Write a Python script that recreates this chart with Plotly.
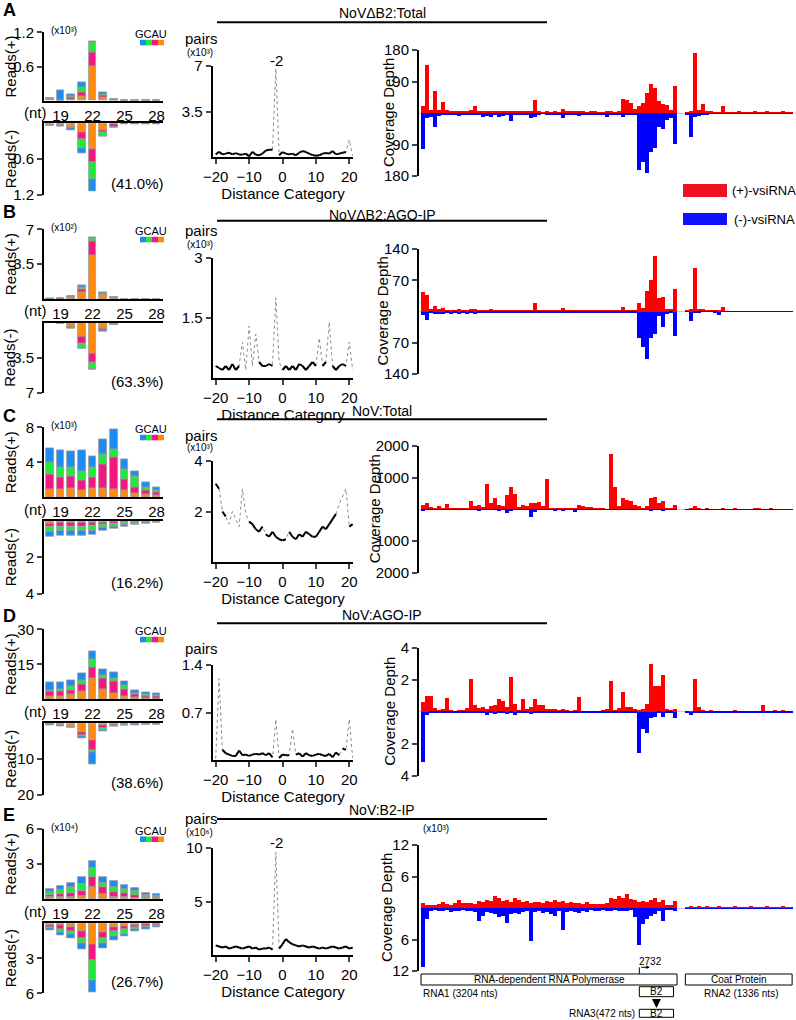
import plotly.graph_objects as go

W, H = 796, 1020
FONT = "Arial, Liberation Sans, Helvetica, sans-serif"

# ---------------- size-distribution histograms (lengths 18..28) ----------------
LENGTHS = [18, 19, 20, 21, 22, 23, 24, 25, 26, 27, 28]
NT_TICKS = [19, 22, 25, 28]
NUCS = ["U", "A", "C", "G"]          # stacking order, bottom -> top
NUC_COLORS = {"G": "#1c8cf2", "C": "#22e83c", "A": "#f5177f", "U": "#ff8a0d"}

A_PLUS_U = [0.03, 0.0, 0.03, 0.07, 0.60, 0.06, 0.01, 0, 0, 0, 0]
A_PLUS_A = [0.005, 0.0, 0.03, 0.08, 0.25, 0.04, 0.02, 0, 0, 0, 0]
A_PLUS_C = [0.0, 0.0, 0.02, 0.08, 0.17, 0.02, 0.0, 0, 0, 0, 0]
A_PLUS_G = [0.005, 0.19, 0.03, 0.10, 0.03, 0.02, 0.0, 0.01, 0.01, 0.01, 0.01]
A_MINUS_U = [0.03, 0.02, 0.07, 0.15, 0.43, 0.12, 0.01, 0, 0, 0, 0]
A_MINUS_A = [0.005, 0.02, 0.01, 0.12, 0.23, 0.03, 0.05, 0, 0, 0, 0]
A_MINUS_C = [0.0, 0.005, 0.01, 0.14, 0.27, 0.07, 0.005, 0, 0, 0, 0]
A_MINUS_G = [0.005, 0.005, 0.02, 0.09, 0.21, 0.0, 0.0, 0.01, 0.01, 0.01, 0.01]

B_PLUS_U = [0.02, 0.02, 0.22, 0.63, 4.4, 0.45, 0.05, 0, 0, 0, 0]
B_PLUS_A = [0.0, 0.01, 0.06, 0.34, 1.43, 0.1, 0.1, 0, 0, 0, 0]
B_PLUS_C = [0.0, 0.01, 0.01, 0.20, 0.27, 0.03, 0.01, 0, 0, 0, 0]
B_PLUS_G = [0.01, 0.02, 0.01, 0.23, 0.10, 0.05, 0.01, 0.02, 0.02, 0.02, 0.02]
B_MINUS_U = [0.02, 0.05, 0.45, 1.44, 3.07, 0.6, 0.05, 0, 0, 0, 0]
B_MINUS_A = [0.0, 0.02, 0.05, 0.66, 0.93, 0.15, 0.15, 0, 0, 0, 0]
B_MINUS_C = [0.0, 0.01, 0.03, 0.35, 0.58, 0.08, 0.02, 0, 0, 0, 0]
B_MINUS_G = [0.01, 0.02, 0.02, 0.15, 0.07, 0.05, 0.01, 0.02, 0.02, 0.02, 0.02]

C_PLUS_U = [0.91, 0.91, 0.99, 0.84, 1.03, 0.99, 0.95, 0.84, 0.46, 0.30, 0.25]
C_PLUS_A = [1.76, 1.38, 1.37, 1.14, 1.26, 2.82, 3.62, 1.22, 0.68, 0.50, 0.30]
C_PLUS_C = [1.29, 1.14, 1.07, 1.02, 1.14, 1.14, 0.95, 1.14, 1.22, 0.40, 0.25]
C_PLUS_G = [1.64, 1.98, 1.87, 2.37, 1.29, 1.68, 2.29, 1.14, 0.64, 0.48, 0.34]
C_MINUS_U = [0.15, 0.13, 0.13, 0.13, 0.12, 0.09, 0.07, 0.05, 0.04, 0.03, 0.02]
C_MINUS_A = [0.18, 0.17, 0.17, 0.17, 0.16, 0.12, 0.10, 0.07, 0.05, 0.03, 0.02]
C_MINUS_C = [0.27, 0.25, 0.25, 0.25, 0.24, 0.16, 0.13, 0.10, 0.07, 0.04, 0.03]
C_MINUS_G = [0.27, 0.27, 0.27, 0.27, 0.26, 0.18, 0.15, 0.11, 0.08, 0.05, 0.03]

D_PLUS_U = [1.1, 1.3, 2.0, 3.3, 8.9, 4.3, 2.6, 1.4, 0.8, 0.6, 0.5]
D_PLUS_A = [2.2, 2.3, 2.0, 3.3, 4.8, 4.6, 5.3, 3.0, 1.2, 0.9, 0.7]
D_PLUS_C = [0.7, 0.8, 1.4, 1.7, 3.6, 1.2, 1.1, 1.5, 0.6, 0.5, 0.4]
D_PLUS_G = [3.3, 2.7, 2.6, 2.8, 3.3, 2.8, 2.6, 1.7, 1.4, 1.0, 0.9]
D_MINUS_U = [0.2, 0.3, 0.8, 2.6, 4.7, 0.6, 0.2, 0.15, 0.1, 0.1, 0.1]
D_MINUS_A = [0.15, 0.2, 0.2, 0.7, 2.8, 0.8, 0.35, 0.25, 0.2, 0.15, 0.15]
D_MINUS_C = [0.06, 0.1, 0.05, 0.4, 0.7, 0.5, 0.15, 0.1, 0.1, 0.05, 0.05]
D_MINUS_G = [0.15, 0.15, 0.15, 0.5, 3.2, 0.4, 0.2, 0.15, 0.1, 0.1, 0.1]

E_PLUS_U = [0.15, 0.14, 0.2, 0.3, 1.0, 0.4, 0.2, 0.15, 0.1, 0.05, 0.05]
E_PLUS_A = [0.19, 0.29, 0.3, 0.4, 0.86, 0.6, 0.4, 0.35, 0.25, 0.15, 0.1]
E_PLUS_C = [0.23, 0.37, 0.5, 0.6, 0.77, 0.4, 0.4, 0.35, 0.3, 0.15, 0.1]
E_PLUS_G = [0.29, 0.31, 0.34, 0.61, 0.66, 0.51, 0.51, 0.38, 0.32, 0.19, 0.15]
E_MINUS_U = [0.15, 0.2, 0.3, 0.7, 1.77, 0.8, 0.3, 0.25, 0.15, 0.1, 0.08]
E_MINUS_A = [0.15, 0.3, 0.35, 0.59, 1.37, 0.5, 0.4, 0.3, 0.2, 0.12, 0.1]
E_MINUS_C = [0.15, 0.25, 0.3, 0.42, 1.72, 0.4, 0.4, 0.35, 0.2, 0.15, 0.1]
E_MINUS_G = [0.18, 0.25, 0.34, 0.52, 1.04, 0.44, 0.33, 0.24, 0.16, 0.12, 0.09]

# ---------------- overlapping-pair distance profiles (-20..21) ----------------
DIST = list(range(-20, 22))
DIST_TICKS = [-20, -10, 0, 10, 20]
A_PAIRS = [0.2, 0.4, 0.2, 0.26, 0.33, 0.2, 0.3, 0.2, 0.18, 0.26, 0.05, 0.4, 0.18, 0.13,
           0.26, 0.5, 0.55, 0.55, 6.8, 0.13, 0.38, 0.26, 0.2, 0.26, 0.13, 0.33, 0.46,
           0.38, 0.26, 0.15, 0.1, 0.13, 0.26, 0.3, 0.26, 0.46, 0.2, 0.26, 0.33, 0.38, 1.34, 0.1]
B_PAIRS = [0.3, 0.25, 0.2, 0.3, 0.2, 0.35, 0.2, 0.3, 0.9, 0.2, 1.3, 0.3, 1.1, 0.4,
           0.3, 0.3, 0.35, 0.3, 2.0, 0.4, 0.2, 0.3, 0.2, 0.3, 0.2, 0.35, 0.3, 0.2,
           0.3, 0.4, 0.3, 1.0, 0.3, 0.4, 1.4, 0.3, 0.2, 0.3, 0.35, 0.3, 0.9, 0.2]
C_PAIRS = [3.1, 2.9, 2.0, 1.8, 1.5, 2.0, 1.7, 1.4, 2.9, 1.9, 1.6, 1.5, 1.3, 1.2,
           1.4, 1.1, 1.0, 1.2, 1.0, 0.9, 0.85, 0.9, 1.2, 1.0, 0.9, 1.1, 1.0, 1.2,
           1.1, 1.0, 1.0, 1.2, 1.4, 1.3, 1.5, 1.7, 1.9, 2.3, 2.6, 2.9, 1.4, 1.5]
D_PAIRS = [0.02, 1.2, 0.15, 0.1, 0.08, 0.06, 0.06, 0.14, 0.07, 0.08, 0.06, 0.08, 0.09, 0.08,
           0.1, 0.07, 0.1, 0.04, 0.6, 0.03, 0.08, 0.07, 0.07, 0.46, 0.08, 0.1, 0.05, 0.1,
           0.07, 0.06, 0.08, 0.09, 0.07, 0.06, 0.09, 0.04, 0.11, 0.07, 0.17, 0.15, 0.6, 0.03]
E_PAIRS = [0.9, 0.8, 0.7, 0.8, 0.6, 0.7, 0.8, 0.7, 0.6, 0.7, 0.8, 0.6, 0.7, 0.5,
           0.6, 0.6, 0.7, 0.5, 9.6, 0.6, 1.0, 1.5, 1.2, 1.0, 0.9, 0.8, 0.9, 0.8,
           0.7, 0.8, 0.7, 0.6, 0.7, 0.6, 0.7, 0.8, 0.7, 0.6, 0.7, 0.8, 0.6, 0.7]

# ---------------- coverage along the genome (50-nt bins) ----------------
BIN_NT = 50
BIN_START = [i * BIN_NT for i in range(93)]
RNA1_LEN, RNA2_START, RNA2_END = 3204, 3308, 4644

A_COV_PLUS = [20, 136, 8, 64, 10, 31, 8, 3, 4, 6,
              5, 4, 10, 21, 6, 4, 5, 7, 6, 7,
              5, 6, 6, 3, 3, 3, 4, 5, 37, 3,
              2, 3, 2, 3, 2, 12, 3, 3, 3, 3,
              3, 2, 3, 3, 2, 2, 3, 7, 2, 3,
              40, 37, 30, 12, 20, 28, 58, 84, 72, 35,
              25, 22, 10, 76, 0, 0, 2, 5, 172, 8,
              25, 4, 6, 2, 2, 20, 2, 2, 2, 3,
              2, 2, 2, 3, 2, 2, 3, 2, 2, 2,
              3, 2, 2]
A_COV_MINUS = [104, 15, 12, 40, 8, 6, 5, 4, 5, 8,
               6, 5, 7, 6, 5, 10, 8, 12, 6, 10,
               8, 7, 22, 4, 3, 3, 5, 15, 10, 3,
               2, 3, 3, 4, 3, 15, 3, 4, 3, 8,
               3, 3, 4, 3, 5, 4, 10, 4, 3, 4,
               10, 5, 4, 6, 164, 140, 170, 110, 100, 40,
               45, 20, 15, 88, 0, 0, 3, 69, 10, 8,
               3, 3, 2, 2, 2, 2, 2, 2, 2, 2,
               2, 2, 2, 2, 2, 2, 2, 2, 2, 2,
               2, 2, 2]
B_COV_PLUS = [44, 36, 5, 13, 5, 8, 4, 3, 4, 5,
              4, 3, 5, 5, 4, 3, 3, 5, 3, 3,
              3, 3, 3, 2, 2, 2, 2, 3, 20, 2,
              2, 2, 2, 2, 2, 8, 2, 2, 2, 2,
              2, 2, 2, 2, 2, 2, 2, 2, 2, 2,
              9, 4, 3, 3, 19, 8, 46, 70, 124, 30,
              32, 5, 5, 51, 0, 0, 2, 5, 98, 5,
              5, 2, 2, 2, 3, 10, 1, 1, 1, 1,
              1, 1, 1, 1, 1, 1, 1, 1, 1, 1,
              1, 1, 1]
B_COV_MINUS = [8, 18, 4, 5, 5, 6, 4, 5, 4, 5,
               4, 5, 4, 5, 4, 3, 3, 3, 3, 3,
               3, 3, 3, 2, 2, 2, 2, 3, 3, 2,
               2, 2, 2, 2, 2, 2, 2, 2, 2, 2,
               2, 2, 2, 2, 2, 2, 2, 2, 2, 2,
               3, 2, 2, 2, 60, 80, 107, 60, 50, 10,
               34, 5, 3, 55, 0, 0, 1, 21, 3, 2,
               1, 1, 1, 3, 8, 1, 1, 1, 1, 1,
               1, 1, 1, 1, 1, 1, 1, 1, 1, 1,
               1, 1, 1]
C_COV_PLUS = [150, 200, 60, 40, 100, 50, 170, 40, 20, 30,
              50, 30, 250, 120, 150, 60, 800, 200, 350, 150,
              100, 450, 700, 470, 60, 150, 100, 200, 200, 220,
              120, 960, 30, 30, 20, 30, 20, 40, 30, 150,
              100, 80, 80, 40, 20, 50, 10, 1760, 700, 100,
              350, 300, 250, 150, 120, 30, 100, 370, 400, 200,
              250, 20, 30, 150, 0, 0, 10, 20, 100, 20,
              10, 20, 10, 10, 10, 20, 10, 10, 20, 10,
              10, 10, 10, 40, 40, 10, 10, 20, 10, 10,
              10, 10, 10]
C_COV_MINUS = [30, 10, 5, 5, 5, 5, 5, 5, 5, 5,
               5, 5, 5, 5, 30, 5, 20, 5, 5, 30,
               5, 110, 40, 5, 5, 5, 5, 250, 80, 5,
               5, 5, 5, 40, 5, 40, 5, 5, 80, 5,
               5, 5, 5, 20, 5, 5, 5, 5, 5, 5,
               5, 5, 5, 5, 5, 5, 5, 40, 5, 5,
               30, 5, 5, 5, 0, 0, 3, 3, 3, 3,
               3, 3, 3, 3, 3, 3, 3, 3, 3, 3,
               3, 3, 3, 3, 3, 3, 3, 3, 3, 3,
               3, 3, 3]
D_COV_PLUS = [0.6, 0.97, 1.0, 0.25, 0.1, 0.15, 0.87, 0.1, 0.05, 0.1,
              0.1, 0.25, 2.04, 0.4, 0.25, 0.3, 0.2, 0.35, 0.4, 0.8,
              0.7, 0.3, 2.2, 0.5, 0.1, 0.8, 0.2, 0.3, 0.8, 0.45,
              0.45, 0.15, 0.15, 0.2, 0.1, 0.2, 0.1, 0.05, 0.1, 0.9,
              0.05, 0.05, 0.05, 0.05, 0.05, 0.1, 0.2, 1.95, 0.1, 0.25,
              1.27, 0.3, 0.3, 0.2, 0.1, 0.15, 0.5, 3.0, 1.65, 1.6,
              2.3, 0.2, 0.1, 0.2, 0, 0, 0.02, 0.05, 2.08, 0.3,
              0.1, 0.05, 0.1, 0.03, 0.03, 0.03, 0.03, 0.03, 0.1, 0.03,
              0.03, 0.03, 0.03, 0.03, 0.03, 0.4, 0.03, 0.03, 0.1, 0.03,
              0.1, 0.03, 0.03]
D_COV_MINUS = [3.15, 0.2, 0.05, 0.05, 0.1, 0.05, 0.1, 0.05, 0.05, 0.1,
               0.05, 0.05, 0.05, 0.05, 0.1, 0.05, 0.2, 0.05, 0.15, 0.05,
               0.05, 0.15, 0.05, 0.2, 0.05, 0.05, 0.05, 0.15, 0.05, 0.05,
               0.05, 0.05, 0.05, 0.05, 0.05, 0.05, 0.05, 0.05, 0.05, 0.05,
               0.05, 0.05, 0.05, 0.05, 0.05, 0.05, 0.05, 0.05, 0.05, 0.05,
               0.05, 0.05, 0.05, 0.1, 2.6, 1.1, 1.3, 0.4, 0.3, 0.1,
               0.3, 0.05, 0.05, 0.4, 0, 0, 0.02, 0.2, 0.02, 0.02,
               0.02, 0.02, 0.02, 0.02, 0.02, 0.02, 0.02, 0.02, 0.02, 0.02,
               0.02, 0.02, 0.02, 0.02, 0.02, 0.02, 0.02, 0.02, 0.02, 0.02,
               0.02, 0.02, 0.02]
E_COV_PLUS = [0.95, 0.6, 0.65, 0.6, 0.7, 1.1, 0.8, 0.6, 0.9, 1.6,
              1.0, 0.9, 1.0, 0.8, 1.3, 1.1, 1.6, 1.4, 2.2, 1.9,
              1.3, 1.6, 1.2, 1.9, 1.6, 1.2, 1.3, 1.0, 1.1, 1.2,
              1.0, 1.4, 1.1, 1.6, 1.2, 1.3, 1.0, 1.1, 0.9, 1.0,
              0.8, 1.1, 0.8, 0.7, 0.8, 0.7, 1.0, 1.9, 1.8, 2.2,
              1.9, 2.6, 1.8, 1.5, 1.2, 1.3, 1.1, 1.5, 1.9, 1.2,
              1.6, 0.6, 0.5, 1.3, 0, 0, 0.15, 0.2, 0.15, 0.25,
              0.15, 0.2, 0.1, 0.15, 0.2, 0.1, 0.15, 0.1, 0.2, 0.15,
              0.1, 0.15, 0.2, 0.1, 0.15, 0.1, 0.2, 0.1, 0.15, 0.1,
              0.2, 0.1, 0.15]
E_COV_MINUS = [11.2, 2.0, 0.5, 0.4, 0.6, 0.5, 0.4, 0.7, 0.5, 0.6,
               0.4, 0.5, 0.6, 0.8, 2.5, 1.5, 0.7, 1.0, 1.1, 1.8,
               1.5, 2.8, 1.2, 0.9, 1.2, 0.8, 0.6, 6.3, 0.7, 0.6,
               0.9, 0.8, 1.2, 1.5, 0.6, 4.1, 0.8, 0.6, 0.7, 1.0,
               0.5, 0.8, 0.4, 0.5, 0.6, 0.4, 0.6, 0.5, 0.4, 0.5,
               0.6, 0.5, 0.4, 1.8, 7.0, 3.0, 2.0, 1.6, 1.2, 0.6,
               2.5, 0.3, 0.3, 0.5, 0, 0, 0.15, 0.1, 0.15, 0.1,
               0.1, 0.15, 0.1, 0.1, 0.15, 0.1, 0.1, 0.15, 0.1, 0.1,
               0.15, 0.1, 0.1, 0.15, 0.1, 0.1, 0.15, 0.1, 0.1, 0.1,
               0.15, 0.1, 0.1]

PANELS = [
    dict(letter="A", title="NoVΔB2:Total", letter_y=10, title_y=13, line_y=22.3,
         plus=dict(U=A_PLUS_U, A=A_PLUS_A, C=A_PLUS_C, G=A_PLUS_G),
         minus=dict(U=A_MINUS_U, A=A_MINUS_A, C=A_MINUS_C, G=A_MINUS_G),
         ht=(32.3, 100.7), hb=(123.3, 195.0), hmax=(1.2, 1.2),
         hticks=(["0.6", "1.2"], ["0.6", "1.2"]), hmult="(x10³)", pct="(41.0%)",
         pairs=A_PAIRS, mid=(66.0, 157.0), mmax=7, mticks=["3.5", "7"], mmult="(x10³)",
         pairs_y=(39, 52), peak_label=True, cd_x=388,
         cov=(A_COV_PLUS, A_COV_MINUS), right=(50.0, 176.0), rmax=180, rticks=["90", "180"], rmult=None),
    dict(letter="B", title="NoVΔB2:AGO-IP", letter_y=212, title_y=214.5, line_y=220.7,
         plus=dict(U=B_PLUS_U, A=B_PLUS_A, C=B_PLUS_C, G=B_PLUS_G),
         minus=dict(U=B_MINUS_U, A=B_MINUS_A, C=B_MINUS_C, G=B_MINUS_G),
         ht=(229.3, 299.0), hb=(322.7, 393.0), hmax=(7, 7),
         hticks=(["3.5", "7"], ["3.5", "7"]), hmult="(x10²)", pct="(63.3%)",
         pairs=B_PAIRS, mid=(258.0, 378.0), mmax=3, mticks=["1.5", "3"], mmult="(x10³)",
         pairs_y=(231, 244), peak_label=False, cd_x=382,
         cov=(B_COV_PLUS, B_COV_MINUS), right=(249.0, 374.0), rmax=140, rticks=["70", "140"], rmult=None),
    dict(letter="C", title="NoV:Total", letter_y=416, title_y=410.7, line_y=419.3,
         plus=dict(U=C_PLUS_U, A=C_PLUS_A, C=C_PLUS_C, G=C_PLUS_G),
         minus=dict(U=C_MINUS_U, A=C_MINUS_A, C=C_MINUS_C, G=C_MINUS_G),
         ht=(427.3, 497.3), hb=(520.7, 594.0), hmax=(8, 4),
         hticks=(["4", "8"], ["2", "4"]), hmult="(x10³)", pct="(16.2%)",
         pairs=C_PAIRS, mid=(461.0, 562.0), mmax=4, mticks=["2", "4"], mmult="(x10³)",
         pairs_y=(435, 447), peak_label=False, cd_x=374,
         cov=(C_COV_PLUS, C_COV_MINUS), right=(446.0, 572.7), rmax=2000, rticks=["1000", "2000"], rmult=None),
    dict(letter="D", title="NoV:AGO-IP", letter_y=616, title_y=615, line_y=623.3,
         plus=dict(U=D_PLUS_U, A=D_PLUS_A, C=D_PLUS_C, G=D_PLUS_G),
         minus=dict(U=D_MINUS_U, A=D_MINUS_A, C=D_MINUS_C, G=D_MINUS_G),
         ht=(629.3, 699.3), hb=(723.3, 794.7), hmax=(30, 20),
         hticks=(["15", "30"], ["10", "20"]), hmult=None, pct="(38.6%)",
         pairs=D_PAIRS, mid=(665.0, 760.0), mmax=1.4, mticks=["0.7", "1.4"], mmult=None,
         pairs_y=(648, 0), peak_label=False, cd_x=390,
         cov=(D_COV_PLUS, D_COV_MINUS), right=(648.0, 775.7), rmax=4, rticks=["2", "4"], rmult=None),
    dict(letter="E", title="NoV:B2-IP", letter_y=815, title_y=810, line_y=819,
         plus=dict(U=E_PLUS_U, A=E_PLUS_A, C=E_PLUS_C, G=E_PLUS_G),
         minus=dict(U=E_MINUS_U, A=E_MINUS_A, C=E_MINUS_C, G=E_MINUS_G),
         ht=(829.0, 899.0), hb=(923.3, 993.3), hmax=(6, 6),
         hticks=(["3", "6"], ["3", "6"]), hmult="(x10⁴)", pct="(26.7%)",
         pairs=E_PAIRS, mid=(848.0, 955.0), mmax=10, mticks=["5", "10"], mmult="(x10⁶)",
         pairs_y=(818, 832), peak_label=True, cd_x=386,
         cov=(E_COV_PLUS, E_COV_MINUS), right=(845.0, 971.0), rmax=12, rticks=["6", "12"], rmult="(x10³)"),
]


def fx(x):
    return x / W


def fy(y):
    return 1 - y / H


def axname(k):
    return "" if k == 1 else str(k)


fig = go.Figure()
layout = dict(width=W, height=H, margin=dict(l=0, r=0, t=0, b=0, pad=0, autoexpand=False),
              autosize=False,
              paper_bgcolor="white", plot_bgcolor="rgba(0,0,0,0)",
              showlegend=False, barmode="relative", bargap=0,
              font=dict(family=FONT, size=13, color="black"))
annotations = []
shapes = []

AXLINE = dict(showline=True, linecolor="black", linewidth=2, showgrid=False, zeroline=False,
              automargin=False, tickfont=dict(size=14, family=FONT, color="black"))
TICKFONT = dict(size=15, family=FONT, color="black")

HIST_X = (44.0, 163.0)
MID_X = (212.7, 353.3)
RIGHT_X = (419.0, 793.0)

for p, P in enumerate(PANELS):
    k_top, k_bot, k_mid, k_cov = 4 * p + 1, 4 * p + 2, 4 * p + 3, 4 * p + 4

    # ---- stacked histograms ----
    for k, strand, (ytop, ybot), ymax, tt, side in [
        (k_top, P["plus"], P["ht"], P["hmax"][0], P["hticks"][0], "bottom"),
        (k_bot, P["minus"], P["hb"], P["hmax"][1], P["hticks"][1], "top"),
    ]:
        for nuc in NUCS:
            fig.add_trace(go.Bar(x=LENGTHS, y=strand[nuc], width=0.72,
                                 marker=dict(color=NUC_COLORS[nuc], line=dict(color="#9c9c9c", width=0.8)),
                                 xaxis="x" + axname(k), yaxis="y" + axname(k), hoverinfo="skip"))
        tv = [float(t) for t in tt]
        layout["xaxis" + axname(k)] = dict(AXLINE, domain=[fx(HIST_X[0]), fx(HIST_X[1])], range=[17.45, 28.6],
                                           anchor="y" + axname(k), side=side, ticks="",
                                           tickvals=NT_TICKS, showticklabels=(side == "bottom"),
                                           tickfont=TICKFONT)
        layout["yaxis" + axname(k)] = dict(AXLINE, domain=[fy(ybot), fy(ytop)],
                                           range=[0, ymax] if side == "bottom" else [ymax, 0],
                                           anchor="x" + axname(k), ticks="outside", ticklen=5, tickwidth=2,
                                           tickvals=tv, ticktext=tt, tickfont=TICKFONT)
    ht, hb = P["ht"], P["hb"]
    annotations += [
        dict(x=fx(10), y=fy((ht[0] + ht[1]) / 2), text="Reads(+)", textangle=-90, font=dict(size=15)),
        dict(x=fx(10), y=fy((hb[0] + hb[1]) / 2), text="Reads(-)", textangle=-90, font=dict(size=15)),
        dict(x=fx(35), y=fy((ht[1] + hb[0]) / 2), text="(nt)", font=dict(size=15)),
        dict(x=fx(137), y=fy(hb[1] - 12), text=P["pct"], font=dict(size=15)),
        dict(x=fx(151), y=fy(ht[0] + 1.5), text="GCAU", font=dict(size=11)),
    ]
    if P["hmult"]:
        annotations.append(dict(x=fx(49), y=fy(ht[0] - 2), text=P["hmult"], xanchor="left", font=dict(size=10)))
    for j, nuc in enumerate(["G", "C", "A", "U"]):
        shapes.append(dict(type="rect", xref="paper", yref="paper",
                           x0=fx(140 + 6 * j), x1=fx(146 + 6 * j), y0=fy(ht[0] + 13), y1=fy(ht[0] + 7.5),
                           fillcolor=NUC_COLORS[nuc], line=dict(width=0)))

    # ---- distance profile ----
    ytop, ybot = P["mid"]
    pairs = P["pairs"]
    mmax = P["mmax"]
    px_per_unit = (ybot - ytop) / mmax
    fig.add_trace(go.Scatter(x=DIST, y=pairs, mode="lines", line=dict(color="#8a8a8a", width=1, dash="dot"),
                             xaxis="x" + axname(k_mid), yaxis="y" + axname(k_mid), hoverinfo="skip"))
    bx, by = [], []
    for i in range(len(DIST) - 1):
        if abs(pairs[i + 1] - pairs[i]) * px_per_unit / 3.35 < 2.0:
            bx += [DIST[i], DIST[i + 1], None]
            by += [pairs[i], pairs[i + 1], None]
    fig.add_trace(go.Scatter(x=bx, y=by, mode="lines", line=dict(color="black", width=2),
                             xaxis="x" + axname(k_mid), yaxis="y" + axname(k_mid), hoverinfo="skip"))
    layout["xaxis" + axname(k_mid)] = dict(AXLINE, domain=[fx(MID_X[0]), fx(MID_X[1])], range=[-20.9, 21.2],
                                           anchor="y" + axname(k_mid), ticks="outside", ticklen=5, tickwidth=2,
                                           tickvals=DIST_TICKS, tickfont=TICKFONT,
                                           title=dict(text="Distance Category", font=dict(size=15), standoff=0))
    layout["yaxis" + axname(k_mid)] = dict(AXLINE, domain=[fy(ybot), fy(ytop)], range=[0, mmax],
                                           anchor="x" + axname(k_mid), ticks="outside", ticklen=5, tickwidth=2,
                                           tickvals=[float(t) for t in P["mticks"]], ticktext=P["mticks"],
                                           tickfont=TICKFONT)
    annotations.append(dict(x=fx(201), y=fy(P["pairs_y"][0]), text="pairs", font=dict(size=15)))
    if P["mmult"]:
        annotations.append(dict(x=fx(200), y=fy(P["pairs_y"][1]), text=P["mmult"], font=dict(size=10)))
    if P["peak_label"]:
        annotations.append(dict(x=-1.8, xref="x" + axname(k_mid), y=fy(ytop - 6), yref="paper",
                                text="-2", font=dict(size=15), showarrow=False))

    # ---- title line ----
    annotations.append(dict(x=fx(382), y=fy(P["title_y"]), text=P["title"], font=dict(size=14)))
    shapes.append(dict(type="line", xref="paper", yref="paper", x0=fx(217), x1=fx(547),
                       y0=fy(P["line_y"]), y1=fy(P["line_y"]), line=dict(color="black", width=2)))
    annotations.append(dict(x=fx(1), y=fy(P["letter_y"]), text="<b>" + P["letter"] + "</b>",
                            xanchor="left", font=dict(size=18)))

    # ---- coverage ----
    cov_plus, cov_minus = P["cov"]
    xs = [b + BIN_NT / 2 for b in BIN_START]
    fig.add_trace(go.Bar(x=xs, y=cov_plus, width=BIN_NT, marker=dict(color="#ff0000", line=dict(width=0)),
                         xaxis="x" + axname(k_cov), yaxis="y" + axname(k_cov), hoverinfo="skip"))
    fig.add_trace(go.Bar(x=xs, y=[-v for v in cov_minus], width=BIN_NT,
                         marker=dict(color="#0000ff", line=dict(width=0)),
                         xaxis="x" + axname(k_cov), yaxis="y" + axname(k_cov), hoverinfo="skip"))
    ytop, ybot = P["right"]
    rmax = P["rmax"]
    rt = [float(t) for t in P["rticks"]]
    layout["xaxis" + axname(k_cov)] = dict(domain=[fx(RIGHT_X[0]), fx(RIGHT_X[1])], range=[-25, 4655],
                                           anchor="y" + axname(k_cov), visible=False, automargin=False)
    layout["yaxis" + axname(k_cov)] = dict(AXLINE, domain=[fy(ybot), fy(ytop)], range=[-rmax, rmax],
                                           anchor="x" + axname(k_cov), ticks="outside", ticklen=5, tickwidth=2,
                                           tickvals=[-rt[1], -rt[0], rt[0], rt[1]],
                                           ticktext=[P["rticks"][1], P["rticks"][0], P["rticks"][0], P["rticks"][1]],
                                           tickfont=TICKFONT,
                                           zeroline=True, zerolinecolor="#c9c0f8", zerolinewidth=1)
    annotations.append(dict(x=fx(P["cd_x"]), y=fy((ytop + ybot) / 2), text="Coverage Depth", textangle=-90,
                            font=dict(size=15)))
    if P["rmult"]:
        annotations.append(dict(x=fx(421), y=fy(ytop - 17), text=P["rmult"], xanchor="left", font=dict(size=10)))

# ---- legend for strands ----
shapes += [
    dict(type="rect", xref="paper", yref="paper", x0=fx(683), x1=fx(727), y0=fy(197), y1=fy(184),
         fillcolor="#ee1122", line=dict(width=0)),
    dict(type="rect", xref="paper", yref="paper", x0=fx(683), x1=fx(727), y0=fy(225), y1=fy(213),
         fillcolor="#1010ff", line=dict(width=0)),
]
annotations += [
    dict(x=fx(730), y=fy(190), text="(+)-vsiRNA", xanchor="left", font=dict(size=13)),
    dict(x=fx(732), y=fy(219), text="(-)-vsiRNA", xanchor="left", font=dict(size=13)),
]

# ---- genome map under panel E ----
GX = "x20"
B2_START = 2732
shapes += [
    dict(type="rect", xref=GX, yref="paper", x0=0, x1=RNA1_LEN, y0=fy(985), y1=fy(974),
         line=dict(color="black", width=1), fillcolor="white"),
    dict(type="rect", xref=GX, yref="paper", x0=RNA2_START, x1=RNA2_END, y0=fy(985), y1=fy(974),
         line=dict(color="black", width=1), fillcolor="white"),
    dict(type="rect", xref=GX, yref="paper", x0=B2_START, x1=3160, y0=fy(996.7), y1=fy(986.7),
         line=dict(color="black", width=1), fillcolor="white"),
    dict(type="rect", xref=GX, yref="paper", x0=B2_START, x1=3160, y0=fy(1017.3), y1=fy(1009.3),
         line=dict(color="black", width=1), fillcolor="white"),
    dict(type="line", xref=GX, yref="paper", x0=B2_START, x1=B2_START, y0=fy(974), y1=fy(967.3),
         line=dict(color="black", width=1)),
]
annotations += [
    dict(x=RNA1_LEN / 2, xref=GX, y=fy(979.5), text="RNA-dependent RNA Polymerase", font=dict(size=10)),
    dict(x=(RNA2_START + RNA2_END) / 2, xref=GX, y=fy(979.5), text="Coat Protein", font=dict(size=10)),
    dict(x=0, xref=GX, y=fy(993), text="RNA1 (3204 nts)", xanchor="left", font=dict(size=10)),
    dict(x=4004, xref=GX, y=fy(993), text="RNA2 (1336 nts)", font=dict(size=10)),
    dict(x=2946, xref=GX, y=fy(991.7), text="B2", font=dict(size=10)),
    dict(x=2946, xref=GX, y=fy(1013.3), text="B2", font=dict(size=10)),
    dict(x=2706, xref=GX, y=fy(1013), text="RNA3(472 nts)", xanchor="right", font=dict(size=10)),
    dict(x=2875, xref=GX, y=fy(961.5), text=str(B2_START), font=dict(size=10)),
    dict(x=2862, xref=GX, y=fy(967.3), ax=-10, ay=0, text="", showarrow=True, arrowhead=2,
         arrowsize=0.7, arrowwidth=1, arrowcolor="black"),
    dict(x=2946, xref=GX, y=fy(1008), ax=0, ay=-8, text="", showarrow=True, arrowhead=2,
         arrowsize=0.6, arrowwidth=3, arrowcolor="black"),
]

for a in annotations:
    a.setdefault("xref", "paper")
    a.setdefault("yref", "paper")
    a.setdefault("showarrow", False)
    a.setdefault("xanchor", "center")
    a.setdefault("yanchor", "middle")
layout["annotations"] = annotations
layout["shapes"] = shapes
fig.update_layout(**layout)
fig.write_html("out.html", config={"displayModeBar": False},
               post_script="document.body.style.margin='0px';")
